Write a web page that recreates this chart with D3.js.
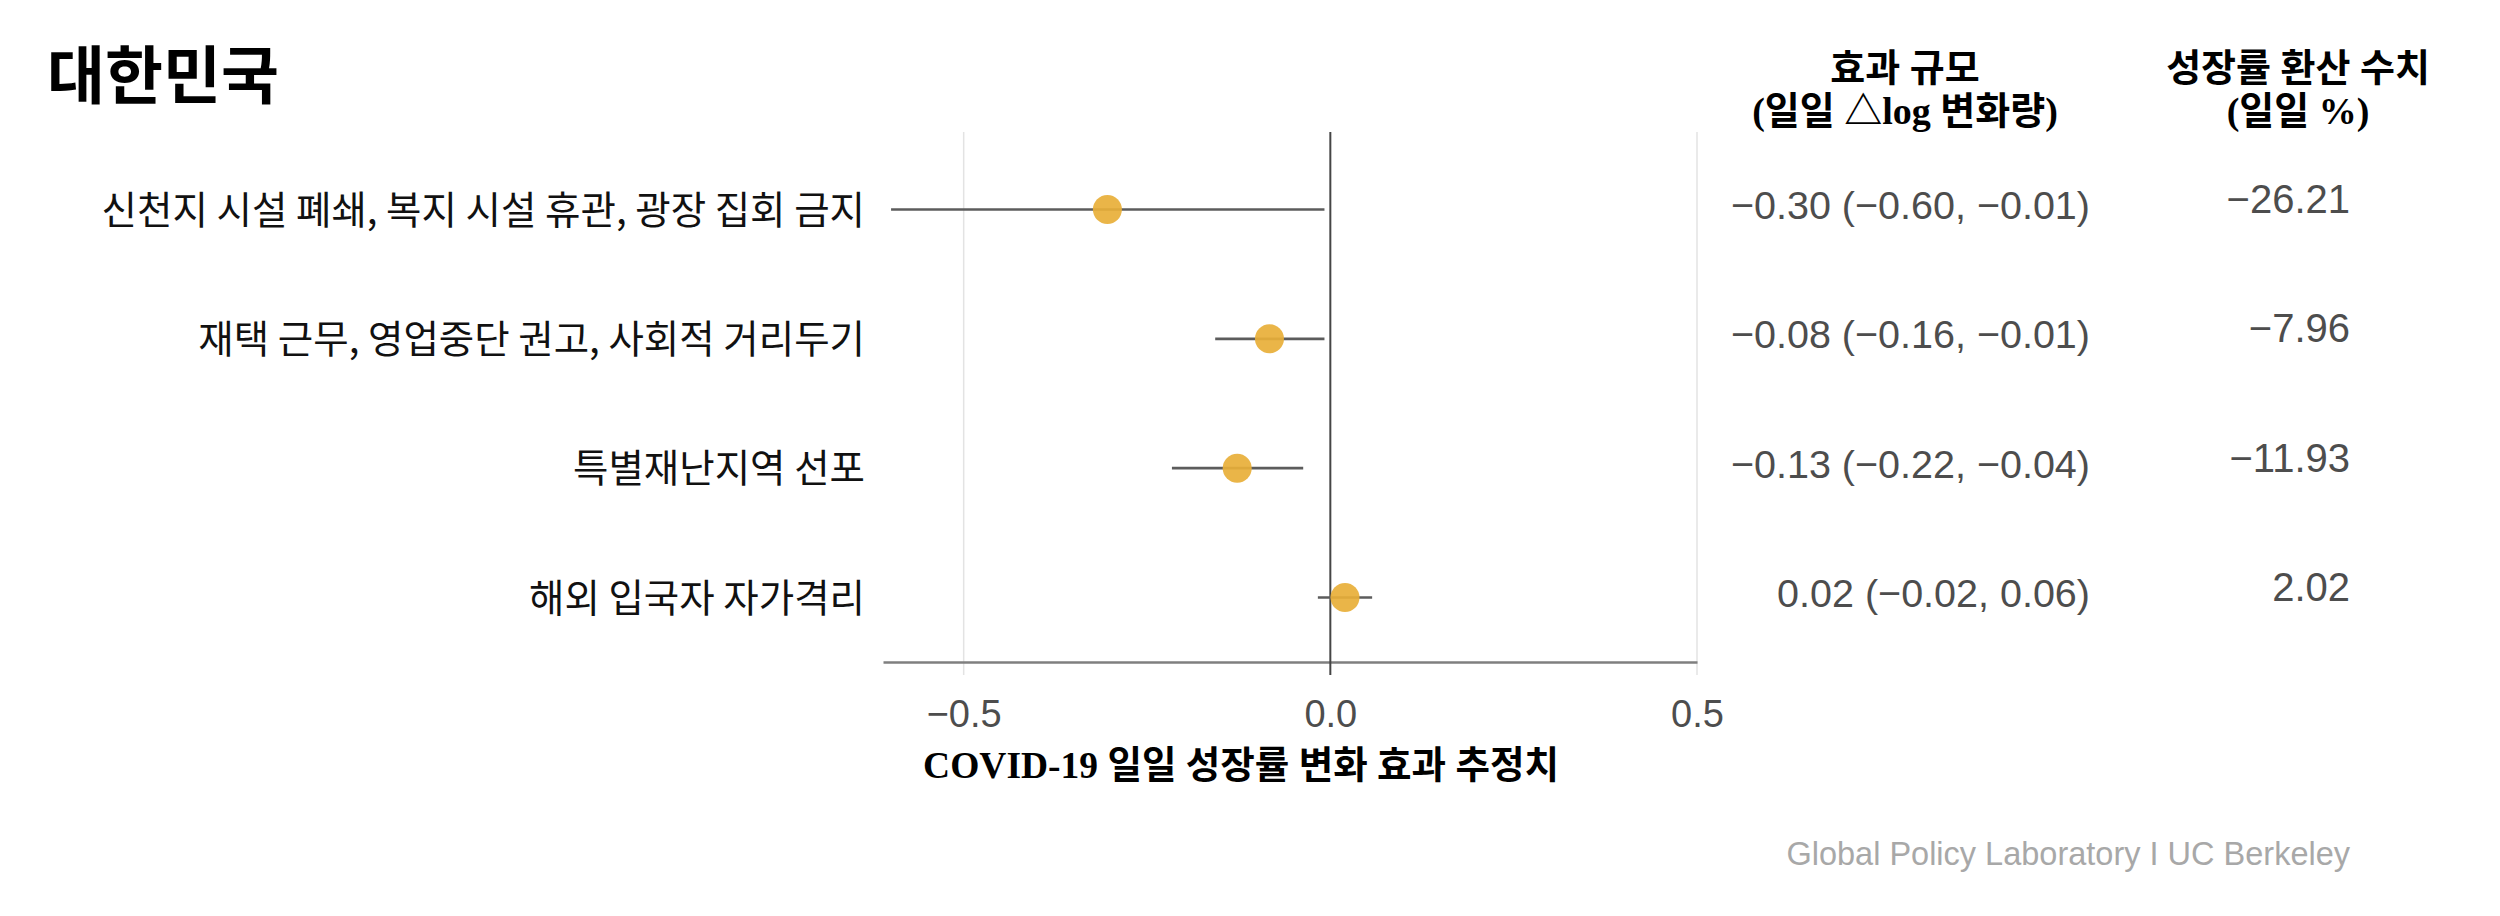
<!DOCTYPE html>
<html><head><meta charset="utf-8">
<script src="https://cdn.jsdelivr.net/npm/d3@7"></script>
<style>
html,body{margin:0;padding:0;background:#fff;overflow:hidden}
</style>
</head><body>
<svg id="chart" width="2500" height="916"></svg>
<script>
// ---- data ----
const title = "대한민국";
const policies = [
  "신천지 시설 폐쇄, 복지 시설 휴관, 광장 집회 금지",
  "재택 근무, 영업중단 권고, 사회적 거리두기",
  "특별재난지역 선포",
  "해외 입국자 자가격리"
];
const estimates = [-0.304, -0.083, -0.127, 0.020];
const ciLow     = [-0.599, -0.157, -0.216, -0.017];
const ciHigh    = [-0.008, -0.008, -0.037, 0.057];
const effectLabels = ["−0.30 (−0.60, −0.01)", "−0.08 (−0.16, −0.01)", "−0.13 (−0.22, −0.04)", "0.02 (−0.02, 0.06)"];
const pctLabels = ["−26.21", "−7.96", "−11.93", "2.02"];
const xTicks = [-0.5, 0, 0.5];
const xDomain = [-0.61, 0.5];
const effectHeader = ["효과 규모", "(일일 △log 변화량)"];
const pctHeader = ["성장률 환산 수치", "(일일 %)"];
const xTitle = "COVID-19 일일 성장률 변화 효과 추정치";
const credit = "Global Policy Laboratory I UC Berkeley";

// ---- layout ----
const svg = d3.select("#chart");
const sans = "'Liberation Sans', Arial, Helvetica, sans-serif";
const kr = "'Noto Sans CJK KR', 'Noto Sans', sans-serif";
const serifKr = "'Liberation Serif', 'Noto Sans CJK KR', serif";

const x = d3.scaleLinear().domain(xDomain).range([883, 1697]);
const y = d3.scalePoint().domain(d3.range(policies.length)).range([209.5, 597.5]);
const panelTop = 132, panelBottom = 675, axisY = 662;

// gridlines
svg.append("g").selectAll("line").data(xTicks.filter(d => d !== 0)).join("line")
  .attr("x1", d => x(d)).attr("x2", d => x(d))
  .attr("y1", panelTop).attr("y2", panelBottom)
  .attr("stroke", "#e3e3e3").attr("stroke-width", 1.5);

// x axis
const axis = d3.axisBottom(x).tickValues(xTicks).tickSize(0).tickSizeOuter(0)
  .tickFormat(d3.format(".1f"));
const gAxis = svg.append("g").attr("transform", `translate(0,${axisY})`).call(axis);
gAxis.select(".domain").attr("stroke", "#7f7f7f").attr("stroke-width", 2.5);
gAxis.selectAll(".tick text")
  .attr("y", 65).attr("dy", 0)
  .attr("font-family", sans).attr("font-size", 38).attr("fill", "#4d4d4d");

// zero line
svg.append("line")
  .attr("x1", x(0)).attr("x2", x(0))
  .attr("y1", panelTop).attr("y2", panelBottom)
  .attr("stroke", "#454545").attr("stroke-width", 2);

// CI lines
svg.append("g").selectAll("line").data(policies).join("line")
  .attr("x1", (d, i) => x(ciLow[i])).attr("x2", (d, i) => x(ciHigh[i]))
  .attr("y1", (d, i) => y(i)).attr("y2", (d, i) => y(i))
  .attr("stroke", "#5c5c5c").attr("stroke-width", 2.6);

// points
svg.append("g").selectAll("circle").data(policies).join("circle")
  .attr("cx", (d, i) => x(estimates[i])).attr("cy", (d, i) => y(i))
  .attr("r", 14.5)
  .attr("fill", "#E8AF38").attr("fill-opacity", 0.92);

// row labels
svg.append("g").selectAll("text").data(policies).join("text")
  .attr("x", 865).attr("y", (d, i) => y(i) + 14)
  .attr("text-anchor", "end")
  .attr("font-family", kr).attr("font-size", 38.5).attr("fill", "#111")
  .text(d => d);

// effect column
svg.append("g").selectAll("text").data(effectLabels).join("text")
  .attr("x", 2090).attr("y", (d, i) => y(i) + 9.5)
  .attr("text-anchor", "end")
  .attr("font-family", sans).attr("font-size", 39.5).attr("fill", "#4d4d4d")
  .text(d => d);

// pct column
svg.append("g").selectAll("text").data(pctLabels).join("text")
  .attr("x", 2350).attr("y", (d, i) => y(i) + 3.5)
  .attr("text-anchor", "end")
  .attr("font-family", sans).attr("font-size", 40).attr("fill", "#4d4d4d")
  .text(d => d);

// headers
function header(lines, cx) {
  svg.append("g").selectAll("text").data(lines).join("text")
    .attr("x", cx).attr("y", (d, i) => 81 + i * 43)
    .attr("text-anchor", "middle")
    .attr("font-family", serifKr).attr("font-weight", "bold")
    .attr("font-size", 38).attr("fill", "#000")
    .text(d => d);
}
header(effectHeader, 1905);
header(pctHeader, 2298);

// title
svg.append("text").attr("x", 47).attr("y", 98)
  .attr("font-family", kr).attr("font-weight", "bold")
  .attr("font-size", 63).attr("fill", "#000").text(title);

// x title
svg.append("text").attr("x", 1241).attr("y", 778)
  .attr("text-anchor", "middle")
  .attr("font-family", serifKr).attr("font-weight", "bold")
  .attr("font-size", 37.5).attr("fill", "#000").text(xTitle);

// credit
svg.append("text").attr("x", 2350).attr("y", 865)
  .attr("text-anchor", "end")
  .attr("font-family", sans).attr("font-size", 32.5).attr("fill", "#a8a8a8")
  .text(credit);
</script>
</body></html>
